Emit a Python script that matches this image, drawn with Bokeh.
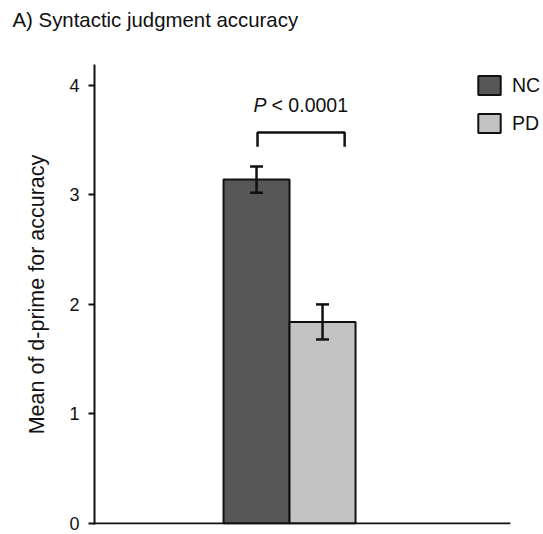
from bokeh.plotting import figure
from bokeh.layouts import column
from bokeh.models import ColumnDataSource, Range1d, Whisker, Label, Legend, LegendItem, FixedTicker, TeeHead, Title
from bokeh.embed import file_html
from bokeh.resources import INLINE

# ---- data ----
groups = ["NC", "PD"]
means = [3.14, 1.84]
upper = [3.26, 2.00]
lower = [3.02, 1.68]
colors = ["#575757", "#c3c3c3"]
yticks = [0, 1, 2, 3, 4]
title_text = "A) Syntactic judgment accuracy"
ylabel = "Mean of d-prime for accuracy"
p_text = "< 0.0001"

FONT = "Liberation Sans"
INK = "#111111"
xpos = [2.455 + i for i in range(len(groups))]
x_axis_end = 6.3

W, H_TITLE, H_MAIN = 543, 40, 494
LEFT = 94

# ---- title strip ----
t = figure(width=W, height=H_TITLE, output_backend="svg", toolbar_location=None,
           x_range=Range1d(0, 1), y_range=Range1d(0, 1),
           x_axis_type=None, y_axis_type=None,
           min_border_left=LEFT, min_border_right=0, min_border_top=0, min_border_bottom=0)
t.outline_line_color = None
t.grid.visible = False
t.title = Title(text=title_text, text_font=FONT, text_font_size="20.4px",
                text_font_style="normal", text_color=INK, align="left",
                offset=12 - LEFT, standoff=13)

# ---- main chart ----
src = ColumnDataSource(dict(x=xpos, top=means, upper=upper, lower=lower,
                            color=colors, group=groups))

p = figure(width=W, height=H_MAIN, output_backend="svg", toolbar_location=None,
           x_range=Range1d(0, 6.803), y_range=Range1d(-0.009, 4.19),
           x_axis_type=None, min_border_left=LEFT, min_border_right=0,
           min_border_top=64 - H_TITLE, min_border_bottom=10)
p.outline_line_color = None
p.grid.visible = False
p.background_fill_color = "white"

bars = p.vbar(x="x", top="top", bottom=0, width=1.0, source=src,
              fill_color="color", line_color=INK, line_width=2)

head = dict(size=13, line_width=2.5, line_color=INK)
w = Whisker(base="x", upper="upper", lower="lower", source=src,
            line_color=INK, line_width=2.5, level="overlay",
            upper_head=TeeHead(**head), lower_head=TeeHead(**head))
p.add_layout(w)

# x axis line (stops short of the legend area)
p.line(x=[0, x_axis_end], y=[0, 0], line_color=INK, line_width=2)

# significance bracket
bx0, bx1, by_top, by_leg = 2.47, 3.79, 3.57, 3.44
p.line(x=[bx0, bx0, bx1, bx1], y=[by_leg, by_top, by_top, by_leg],
       line_color=INK, line_width=2.5)
p.add_layout(Label(x=2.41, y=3.72, text="P", text_font=FONT, text_font_style="italic",
                   text_font_size="19.5px", text_color=INK))
p.add_layout(Label(x=2.41, y=3.72, x_offset=18, text=p_text, text_font=FONT,
                   text_font_size="19.5px", text_color=INK))

# y axis
ax = p.yaxis[0]
ax.ticker = FixedTicker(ticks=yticks)
ax.axis_label = ylabel
ax.axis_label_text_font = FONT
ax.axis_label_text_font_style = "normal"
ax.axis_label_text_font_size = "21.5px"
ax.axis_label_text_color = INK
ax.axis_label_standoff = 17
ax.major_label_text_font = FONT
ax.major_label_text_font_size = "18px"
ax.major_label_text_color = INK
ax.major_label_text_line_height = 1.0
ax.major_label_standoff = 9
ax.axis_line_width = 2
ax.axis_line_color = INK
ax.major_tick_line_width = 2
ax.major_tick_line_color = INK
ax.major_tick_in = 0
ax.major_tick_out = 6
ax.minor_tick_line_color = None

legend = Legend(items=[LegendItem(label=g, renderers=[bars], index=i) for i, g in enumerate(groups)],
                location=(381, 389), glyph_width=28, glyph_height=24, label_height=24,
                spacing=14, label_standoff=9, padding=0, margin=0,
                border_line_color=None, background_fill_alpha=0,
                label_text_font=FONT, label_text_font_size="19.5px", label_text_color=INK)
p.add_layout(legend)

layout = column(t, p, spacing=0)
open("out.html", "w").write(file_html(layout, INLINE))
